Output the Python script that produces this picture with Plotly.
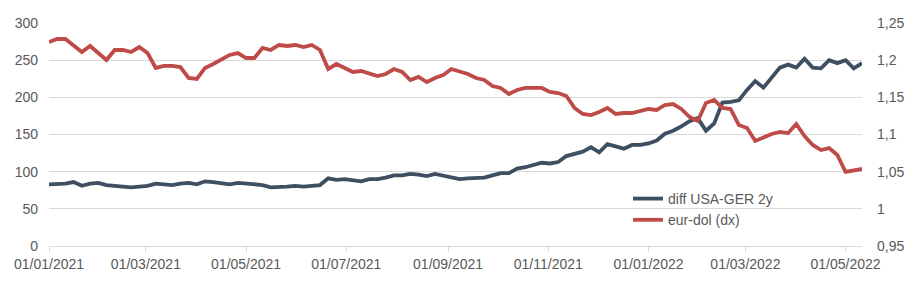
import pandas as pd
import plotly.graph_objects as go

# 5-day sampling grid from 01/01/2021 to 11/05/2022
dates = pd.date_range("2021-01-01", periods=100, freq="5D")

diff_usa_ger_2y = [
    83, 83, 84, 86, 81, 84, 85, 82, 81, 80,
    79, 80, 81, 84, 83, 82, 84, 85, 83, 87,
    86, 85, 83, 85, 84, 83, 82, 79, 79, 80,
    81, 80, 81, 82, 91, 89, 90, 89, 87, 90,
    90, 92, 95, 95, 97, 96, 94, 97, 95, 92,
    90, 91, 91, 92, 95, 98, 98, 104, 106, 109,
    112, 111, 113, 121, 124, 127, 133, 126, 137, 134,
    131, 136, 136, 138, 142, 151, 155, 161, 168, 172,
    155, 165, 193, 194, 196, 210, 222, 213, 226, 240,
    244, 240, 252, 240, 239, 250, 246, 250, 239, 246,
]

eur_dol = [
    1.2244, 1.2285, 1.2285, 1.2191, 1.2110, 1.2191, 1.2096, 1.2002, 1.2137, 1.2137,
    1.2110, 1.2177, 1.2096, 1.1895, 1.1922, 1.1922, 1.1908, 1.1760, 1.1747, 1.1895,
    1.1948, 1.2016, 1.2070, 1.2096, 1.2029, 1.2029, 1.2164, 1.2137, 1.2204, 1.2191,
    1.2204, 1.2177, 1.2204, 1.2137, 1.1881, 1.1948, 1.1895, 1.1841, 1.1854, 1.1827,
    1.1787, 1.1814, 1.1881, 1.1841, 1.1733, 1.1774, 1.1706, 1.1760, 1.1800, 1.1881,
    1.1841, 1.1814, 1.1760, 1.1733, 1.1652, 1.1626, 1.1545, 1.1599, 1.1626, 1.1626,
    1.1626, 1.1572, 1.1558, 1.1518, 1.1357, 1.1276, 1.1262, 1.1303, 1.1357, 1.1276,
    1.1289, 1.1289, 1.1316, 1.1343, 1.1330, 1.1397, 1.1410, 1.1343, 1.1235, 1.1182,
    1.1424, 1.1464, 1.1357, 1.1343, 1.1128, 1.1087, 1.0913, 1.0966, 1.1007, 1.1034,
    1.1020, 1.1141, 1.0980, 1.0859, 1.0791, 1.0818, 1.0724, 1.0496, 1.0522, 1.0536,
]

left_ticks = [0, 50, 100, 150, 200, 250, 300]
right_ticks = [0.95, 1.0, 1.05, 1.1, 1.15, 1.2, 1.25]
right_ticktext = ["0,95", "1", "1,05", "1,1", "1,15", "1,2", "1,25"]
x_ticks = ["2021-01-01", "2021-03-01", "2021-05-01", "2021-07-01", "2021-09-01",
           "2021-11-01", "2022-01-01", "2022-03-01", "2022-05-01"]
x_ticktext = ["01/01/2021", "01/03/2021", "01/05/2021", "01/07/2021", "01/09/2021",
              "01/11/2021", "01/01/2022", "01/03/2022", "01/05/2022"]

BLUE = "#3D4F60"
RED = "#BE4B48"
GRID = "#D9D9D9"
TXT = "#595959"
FONT = "Liberation Sans, Arial, sans-serif"

fig = go.Figure()
fig.add_trace(go.Scatter(x=dates, y=diff_usa_ger_2y, name="diff USA-GER 2y",
                         mode="lines", line=dict(color=BLUE, width=3.8), yaxis="y"))
fig.add_trace(go.Scatter(x=dates, y=eur_dol, name="eur-dol (dx)",
                         mode="lines", line=dict(color=RED, width=3.8), yaxis="y2"))

fig.update_layout(
    width=916, height=286,
    margin=dict(l=49, r=54, t=23, b=40),
    paper_bgcolor="white", plot_bgcolor="white",
    font=dict(family=FONT, size=14, color=TXT),
    showlegend=True,
    legend=dict(x=(628 - 49) / 813, y=(246 - 183) / 223, xanchor="left", yanchor="top",
                bgcolor="rgba(0,0,0,0)", borderwidth=0,
                font=dict(family=FONT, size=14, color=TXT),
                tracegroupgap=0),
    xaxis=dict(
        range=["2021-01-01", "2022-05-11"],
        tickvals=x_ticks, ticktext=x_ticktext,
        showgrid=False, showline=True, linecolor=GRID, linewidth=1,
        ticks="outside", ticklen=5, tickcolor=GRID, tickwidth=1,
        tickfont=dict(family=FONT, size=14, color=TXT),
        zeroline=False,
    ),
    yaxis=dict(
        range=[0, 300], tickvals=left_ticks,
        showgrid=True, gridcolor=GRID, gridwidth=1,
        zeroline=False, showline=False, ticks="",
        ticklabelstandoff=10,
        tickfont=dict(family=FONT, size=14, color=TXT),
    ),
    yaxis2=dict(
        range=[0.95, 1.25], tickvals=right_ticks, ticktext=right_ticktext,
        overlaying="y", side="right",
        showgrid=False, zeroline=False, showline=False, ticks="",
        ticklabelstandoff=14,
        tickfont=dict(family=FONT, size=14, color=TXT),
    ),
)

fig.write_html("out.html")
